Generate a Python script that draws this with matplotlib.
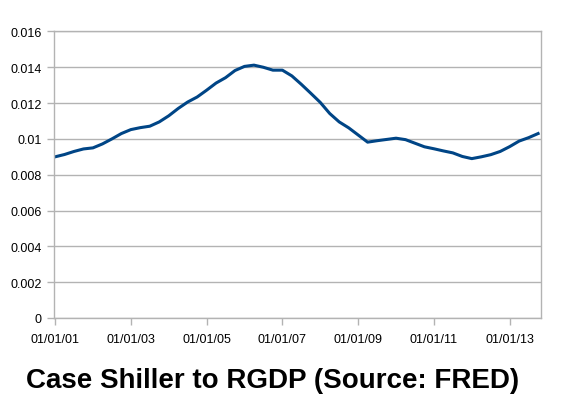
import matplotlib
matplotlib.use("Agg")
import matplotlib.pyplot as plt
import numpy as np

# quarterly observations, 2001Q1 .. 2013Q4 (decimal years)
QUARTERS = [2001 + q * 0.25 for q in range(52)]
RATIO = [
    0.00900, 0.00913, 0.00930, 0.00944, 0.00950, 0.00972, 0.01000, 0.01030,
    0.01052, 0.01063, 0.01071, 0.01095, 0.01129, 0.01170, 0.01206, 0.01234,
    0.01272, 0.01312, 0.01342, 0.01382, 0.01405, 0.01412, 0.01400, 0.01384,
    0.01384, 0.01352, 0.01305, 0.01255, 0.01204, 0.01142, 0.01095, 0.01062,
    0.01022, 0.00982, 0.00990, 0.00997, 0.01004, 0.00996, 0.00976, 0.00956,
    0.00945, 0.00933, 0.00922, 0.00902, 0.00890, 0.00900, 0.00912, 0.00930,
    0.00957, 0.00988, 0.01007, 0.01030,
]

X_TICKS = [2001, 2003, 2005, 2007, 2009, 2011, 2013]
X_LABELS = ["01/01/01", "01/01/03", "01/01/05", "01/01/07", "01/01/09", "01/01/11", "01/01/13"]
Y_TICKS = [0, 0.002, 0.004, 0.006, 0.008, 0.01, 0.012, 0.014, 0.016]
Y_LABELS = ["0", "0.002", "0.004", "0.006", "0.008", "0.01", "0.012", "0.014", "0.016"]

GRID = "#b3b3b3"

plt.rcParams["font.family"] = ["Liberation Sans", "DejaVu Sans"]

fig = plt.figure(figsize=(5.65, 4.02), dpi=100)
ax = fig.add_axes([0.0961, 0.2065, 0.8623, 0.7127])

ax.plot(QUARTERS, RATIO, color="#004586", linewidth=2.2, solid_joinstyle="round")

ax.set_xlim(2000.98, 2013.84)
ax.set_ylim(0, 0.016)
ax.set_xticks(X_TICKS)
ax.set_xticklabels(X_LABELS, fontsize=9)
ax.set_yticks(Y_TICKS)
ax.set_yticklabels(Y_LABELS, fontsize=9)
ax.tick_params(axis="both", length=5, width=1, color=GRID)
ax.tick_params(axis="x", pad=6)
ax.tick_params(axis="y", pad=4)
ax.grid(axis="y", color=GRID, linewidth=1)
ax.set_axisbelow(True)
for side in ["top", "right", "bottom", "left"]:
    ax.spines[side].set_color(GRID)
    ax.spines[side].set_linewidth(1)

fig.text(0.482, 0.052, "Case Shiller to RGDP (Source: FRED)", ha="center", va="center",
         fontsize=20, fontweight="bold")

fig.savefig("out.png", dpi=100)
